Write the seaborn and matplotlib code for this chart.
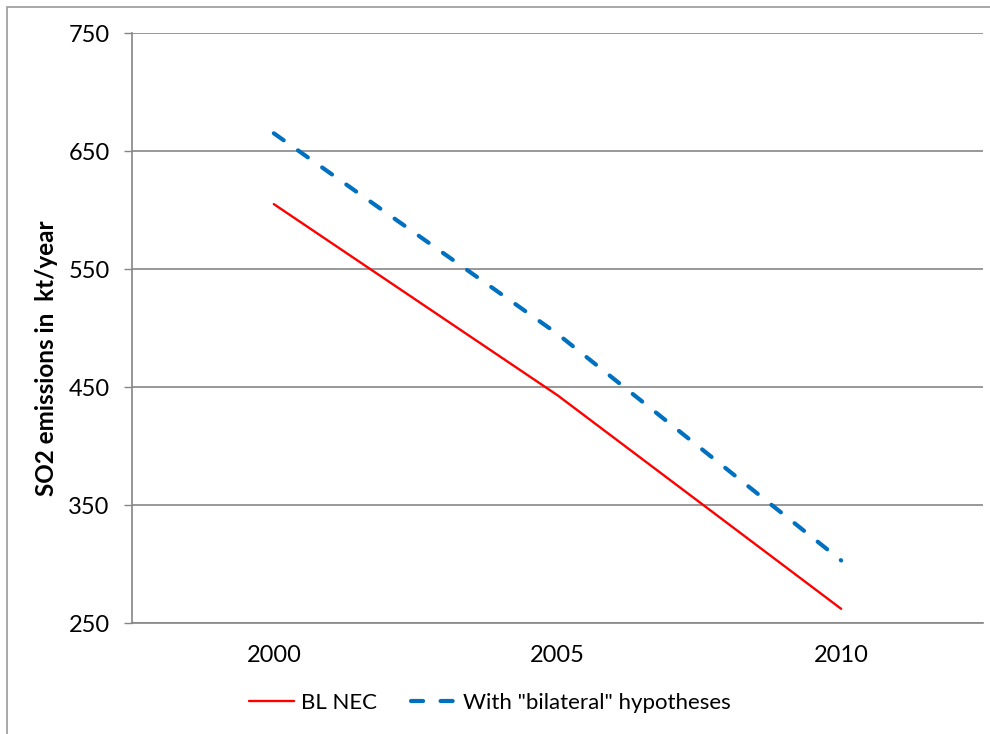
import matplotlib
matplotlib.use("Agg")
import matplotlib.pyplot as plt
import seaborn as sns
import pandas as pd

years = ["2000", "2005", "2010"]
bl_nec = [605, 443, 262]
bilateral = [665, 495, 303]
series_names = ["BL NEC", 'With "bilateral" hypotheses']
y_ticks = [250, 350, 450, 550, 650, 750]

sns.set_style("white")
plt.rcParams["font.family"] = ["Lato", "DejaVu Sans"]

GRID = "#868686"

fig = plt.figure(figsize=(9.9, 7.34), dpi=100)
ax = fig.add_axes([132 / 990, 1 - 623 / 734, (983 - 132) / 990, (623 - 33) / 734])

df1 = pd.DataFrame({"year": years, "value": bl_nec})
df2 = pd.DataFrame({"year": years, "value": bilateral})
sns.lineplot(data=df1, x="year", y="value", ax=ax, color="#FF0000", lw=1.7,
             label=series_names[0], sort=False)
sns.lineplot(data=df2, x="year", y="value", ax=ax, color="#0070C0", lw=3.0,
             label=series_names[1], sort=False, dashes=False)
blue = ax.lines[-1]
blue.set_dashes([2.9, 4.2])
blue.set_dash_capstyle("round")

ax.set_xlim(-0.5, 2.5)
ax.set_ylim(250, 750)
ax.set_yticks(y_ticks)
ax.set_yticklabels([str(v) for v in y_ticks], fontsize=17, color="black")
ax.set_xticks(range(len(years)))
ax.set_xticklabels(years, fontsize=17, color="black")
ax.set_xticks([-0.5, 0.5, 1.5, 2.5], minor=True)
ax.tick_params(axis="x", which="major", length=0, pad=16)
ax.tick_params(axis="x", which="minor", length=6, width=1, color=GRID, direction="out")
ax.tick_params(axis="y", length=6, width=1, color=GRID, direction="out", pad=10, left=True)
ax.yaxis.grid(True, color=GRID, lw=1.2)
ax.xaxis.grid(False)
for s in ["top", "right"]:
    ax.spines[s].set_visible(False)
for s in ["left", "bottom"]:
    ax.spines[s].set_color(GRID)
    ax.spines[s].set_linewidth(1.2)
ax.set_xlabel("")
ax.set_ylabel("")

fig.text(47 / 990, 1 - 358 / 734, "SO2 emissions in  kt/year", rotation=90,
         ha="center", va="center", fontsize=17.5, fontweight="bold", color="black")

handles, labels = ax.get_legend_handles_labels()
ax.get_legend().remove()
fig.legend(handles, labels, loc="center", bbox_to_anchor=(490 / 990, 1 - 703 / 734),
           ncol=2, frameon=False, fontsize=16, handlelength=2.0, handletextpad=0.35,
           columnspacing=1.5, labelcolor="black")

fig.add_artist(plt.Rectangle((7 / 990, -0.05), 1.2, 1 - 7 / 734 + 0.05,
                             transform=fig.transFigure, fill=False,
                             edgecolor="#9a9a9a", lw=1.2))

fig.savefig("out.png", dpi=100)
